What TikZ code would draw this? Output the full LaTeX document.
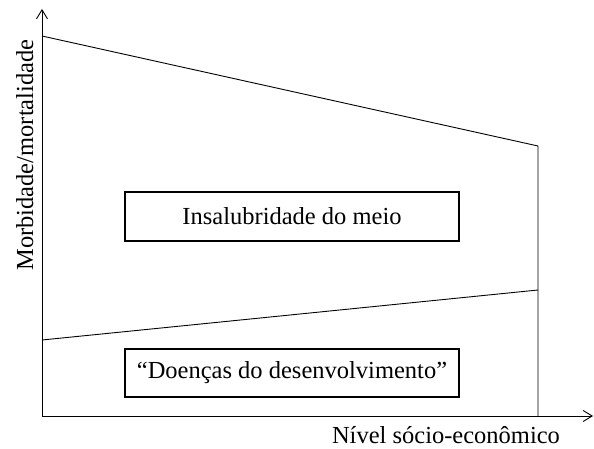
\documentclass[tikz,border=0pt]{standalone}
\usepackage{fontspec}
\setmainfont{Liberation Serif}
\usetikzlibrary{arrows.meta}
\begin{document}
\begin{tikzpicture}[x=1pt,y=1pt,
  axis/.style={line width=0.9pt,-{Straight Barb[length=9pt,width=11pt,line width=0.9pt]}},
  curve/.style={line width=0.9pt},
  labelbox/.style={draw,line width=1.1pt,minimum width=334pt,inner sep=0pt,font=\fontsize{24.5}{28}\selectfont},
  axislabel/.style={font=\fontsize{24.5}{28}\selectfont,inner sep=0pt}]
\useasboundingbox (0,0) rectangle (594,448);
\coordinate (O) at (42,32);
\coordinate (ytip) at (42,439);
\coordinate (xtip) at (593,32);
\coordinate (tl) at (42,412);
\coordinate (tr) at (538,302);
\coordinate (br) at (538,32);
\coordinate (ll) at (42,108);
\coordinate (lr) at (538,158);
\draw[axis] (O) -- (ytip);
\draw[axis] (O) -- (xtip);
\draw[curve] (tl) -- (tr) -- (br);
\draw[curve] (ll) -- (lr);
\node[labelbox,minimum height=49pt] (insal) at (292,231.5) {Insalubridade do meio};
\node[labelbox,minimum height=48pt] (doen) at (292,75) {“Doenças do desenvolvimento”};
\node[axislabel,anchor=base] (xlab) at (446,4.5) {Nível sócio-econômico};
\node[axislabel,anchor=base,rotate=90] (ylab) at (33,293) {Morbidade/mortalidade};
\end{tikzpicture}
\end{document}
